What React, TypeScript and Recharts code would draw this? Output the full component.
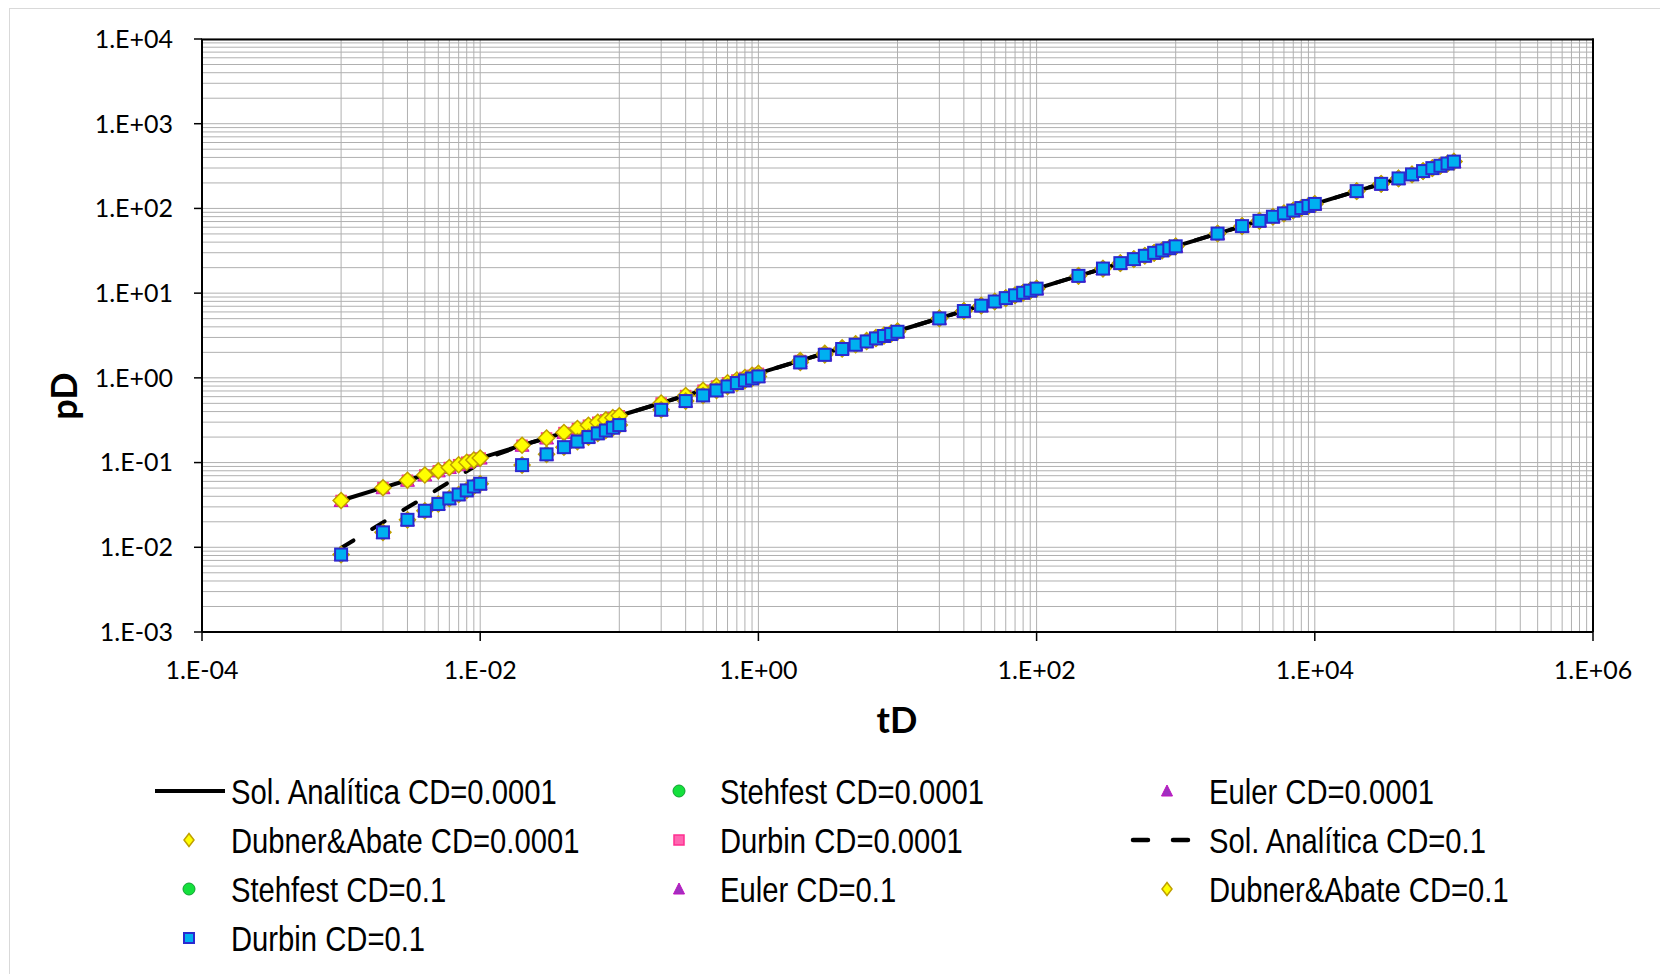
import React from 'react';
import { ComposedChart, Line, Scatter, XAxis, YAxis, CartesianGrid } from 'recharts';

// tD sampling (1..9 x 10^n)
const TD = [
  0.001, 0.002, 0.003, 0.004, 0.005, 0.006, 0.007, 0.008, 0.009,
  0.01, 0.02, 0.03, 0.04, 0.05, 0.06, 0.07, 0.08, 0.09,
  0.1, 0.2, 0.3, 0.4, 0.5, 0.6, 0.7, 0.8, 0.9,
  1, 2, 3, 4, 5, 6, 7, 8, 9,
  10, 20, 30, 40, 50, 60, 70, 80, 90,
  100, 200, 300, 400, 500, 600, 700, 800, 900,
  1000, 2000, 3000, 4000, 5000, 6000, 7000, 8000, 9000,
  10000, 20000, 30000, 40000, 50000, 60000, 70000, 80000, 90000,
  100000,
];

// Sol. Analítica CD=0.0001
const SOL_CD0001 = [
  0.0357, 0.0505, 0.0618, 0.0714, 0.0798, 0.0874, 0.0944, 0.101, 0.107,
  0.113, 0.160, 0.195, 0.226, 0.252, 0.276, 0.299, 0.319, 0.339,
  0.357, 0.505, 0.618, 0.714, 0.798, 0.874, 0.944, 1.01, 1.07,
  1.13, 1.60, 1.95, 2.26, 2.52, 2.76, 2.99, 3.19, 3.39,
  3.57, 5.05, 6.18, 7.14, 7.98, 8.74, 9.44, 10.1, 10.7,
  11.3, 16.0, 19.5, 22.6, 25.2, 27.6, 29.9, 31.9, 33.9,
  35.7, 50.5, 61.8, 71.4, 79.8, 87.4, 94.4, 101, 107,
  113, 160, 195, 226, 252, 276, 299, 319, 339,
  357,
];

// Sol. Analítica CD=0.1 (dashed)
const SOL_CD01 = [
  0.0098, 0.0197, 0.0295, 0.039, 0.049, 0.059, 0.069, 0.079, 0.089,
  0.105, 0.160, 0.195, 0.226, 0.252, 0.276, 0.299, 0.319, 0.339,
  0.357, 0.505, 0.618, 0.714, 0.798, 0.874, 0.944, 1.01, 1.07,
  1.13, 1.60, 1.95, 2.26, 2.52, 2.76, 2.99, 3.19, 3.39,
  3.57, 5.05, 6.18, 7.14, 7.98, 8.74, 9.44, 10.1, 10.7,
  11.3, 16.0, 19.5, 22.6, 25.2, 27.6, 29.9, 31.9, 33.9,
  35.7, 50.5, 61.8, 71.4, 79.8, 87.4, 94.4, 101, 107,
  113, 160, 195, 226, 252, 276, 299, 319, 339,
  357,
];

// numerical inversions, CD=0.1 (Durbin on top, others hidden underneath)
const DURBIN_CD01 = [
  0.0082, 0.0150, 0.0211, 0.0270, 0.0324, 0.0377, 0.0420, 0.0469, 0.0522,
  0.0562, 0.0933, 0.125, 0.152, 0.177, 0.200, 0.221, 0.239, 0.258,
  0.277, 0.420, 0.532, 0.620, 0.710, 0.792, 0.868, 0.931, 0.984,
  1.04, 1.52, 1.87, 2.19, 2.46, 2.69, 2.92, 3.12, 3.29,
  3.50, 5.03, 6.15, 7.12, 7.97, 8.73, 9.43, 10.1, 10.7,
  11.3, 16.0, 19.5, 22.6, 25.2, 27.6, 29.9, 31.9, 33.9,
  35.7, 50.5, 61.8, 71.4, 79.8, 87.4, 94.4, 101, 107,
  113, 160, 195, 226, 252, 276, 299, 319, 339,
  357,
];

// numerical inversions, CD=0.0001 follow the analytical curve
const NUM_CD0001 = SOL_CD0001;

const X_LABELS = [1e-4, 1e-2, 1, 1e2, 1e4, 1e6];
const Y_TICKS = [1e-3, 1e-2, 1e-1, 1, 1e1, 1e2, 1e3, 1e4];

const LEGEND = [
  { label: 'Sol. Analítica CD=0.0001', kind: 'solid' },
  { label: 'Stehfest CD=0.0001', kind: 'circle' },
  { label: 'Euler CD=0.0001', kind: 'triangle' },
  { label: 'Dubner&Abate CD=0.0001', kind: 'diamond' },
  { label: 'Durbin CD=0.0001', kind: 'pink' },
  { label: 'Sol. Analítica CD=0.1', kind: 'dashed' },
  { label: 'Stehfest CD=0.1', kind: 'circle' },
  { label: 'Euler CD=0.1', kind: 'triangle' },
  { label: 'Dubner&Abate CD=0.1', kind: 'diamond' },
  { label: 'Durbin CD=0.1', kind: 'blue' },
];

// gridlines: minor lines only in odd decades on tD, all decades on pD
const GRID_X: number[] = [];
for (let e = -4; e <= 5; e++) {
  if (Math.abs(e) % 2 === 1) for (let k = 1; k <= 9; k++) GRID_X.push(k * Math.pow(10, e));
  else GRID_X.push(Math.pow(10, e));
}
GRID_X.push(1e6);
const GRID_Y: number[] = [];
for (let e = -3; e <= 3; e++) for (let k = 1; k <= 9; k++) GRID_Y.push(k * Math.pow(10, e));
GRID_Y.push(1e4);

const rows = TD.map((t, i) => ({
  t,
  sol1: SOL_CD0001[i],
  sol01: SOL_CD01[i],
  num1: NUM_CD0001[i],
  dur01: DURBIN_CD01[i],
}));

const fmt = (v: number) => {
  const e = Math.round(Math.log10(v));
  return `1.E${e < 0 ? '-' : '+'}${String(Math.abs(e)).padStart(2, '0')}`;
};

const isLabelled = (v: number) => X_LABELS.some((l) => Math.abs(Math.log10(v) - Math.log10(l)) < 1e-6);

const COLORS = {
  green: '#14e03c', greenEdge: '#10a030',
  purple: '#a030c0', purpleEdge: '#c010c0',
  yellow: '#ffff00', yellowEdge: '#c0a000',
  pink: '#ff66b0', pinkEdge: '#ff2f90',
  blue: '#00b0f0', blueEdge: '#2a2ad0',
};

const circleShape = (p: any) => (
  <circle cx={p.cx} cy={p.cy} r={6} fill={COLORS.green} stroke={COLORS.greenEdge} strokeWidth={1} />
);
const triShape = (p: any) => (
  <path d={`M${p.cx},${p.cy - 6.5} L${p.cx + 7},${p.cy + 6} L${p.cx - 7},${p.cy + 6} Z`}
    fill={COLORS.purple} stroke={COLORS.purpleEdge} strokeWidth={1} />
);
const diamondShape = (p: any) => (
  <path d={`M${p.cx},${p.cy - 8} L${p.cx + 8},${p.cy} L${p.cx},${p.cy + 8} L${p.cx - 8},${p.cy} Z`}
    fill={COLORS.yellow} stroke={COLORS.yellowEdge} strokeWidth={1.5} />
);
const pinkShape = (p: any) => (
  <rect x={p.cx - 5} y={p.cy - 5} width={10} height={10} fill={COLORS.pink} stroke={COLORS.pinkEdge} strokeWidth={1.5} />
);
const blueShape = (p: any) => (
  <rect x={p.cx - 6} y={p.cy - 6} width={12} height={12} fill={COLORS.blue} stroke={COLORS.blueEdge} strokeWidth={2} />
);

// x ticks: every gridline is a tick, only even decades get a mark and a label
const XTick = (props: any) => {
  const { x, payload } = props;
  if (!isLabelled(payload.value)) return <g />;
  return (
    <g>
      <line x1={x} x2={x} y1={632} y2={641} stroke="#000" strokeWidth={1.5} />
      <text x={x} y={679} textAnchor="middle" fill="#000" fontSize={25} fontFamily="Lato">{fmt(payload.value)}</text>
    </g>
  );
};

const LegendSymbol = ({ kind, x, y }: { kind: string; x: number; y: number }) => {
  switch (kind) {
    case 'solid':
      return <line x1={155} x2={225} y1={y} y2={y} stroke="#000" strokeWidth={4} />;
    case 'dashed':
      return <line x1={1133} x2={1188} y1={y} y2={y} stroke="#000" strokeWidth={4.5}
        strokeDasharray="15 25" strokeLinecap="round" />;
    case 'circle':
      return <circle cx={x} cy={y} r={6} fill={COLORS.green} stroke={COLORS.greenEdge} strokeWidth={1} />;
    case 'triangle':
      return <path d={`M${x},${y - 6} L${x + 5.5},${y + 5} L${x - 5.5},${y + 5} Z`} fill={COLORS.purple} stroke={COLORS.purpleEdge} strokeWidth={1} />;
    case 'diamond':
      return <path d={`M${x},${y - 6.5} L${x + 5},${y} L${x},${y + 6.5} L${x - 5},${y} Z`} fill={COLORS.yellow} stroke={COLORS.yellowEdge} strokeWidth={1.5} />;
    case 'pink':
      return <rect x={x - 5} y={y - 5} width={10} height={10} fill={COLORS.pink} stroke={COLORS.pinkEdge} strokeWidth={1.5} />;
    default:
      return <rect x={x - 5} y={y - 5} width={10} height={10} fill={COLORS.blue} stroke={COLORS.blueEdge} strokeWidth={2} />;
  }
};

const COL_SYM_X = [189, 679, 1167];
const COL_TEXT_X = [231, 720, 1209];
const ROW_Y = [791, 840, 889, 938];

const tickStyle = { fill: '#000', fontSize: 25, fontFamily: 'Lato' };

export default function App() {
  return (
    <div style={{ position: 'absolute', left: 0, top: 0, width: 1660, height: 974, overflow: 'hidden', background: '#fff' }}>
      <div style={{ position: 'absolute', left: 9, top: 8, width: 1700, height: 1000, border: '1.5px solid #d9d9d9' }} />
      <div style={{ position: 'absolute', left: 0, top: 0 }}>
        <ComposedChart width={1660} height={974} data={rows} margin={{ top: 39, right: 67, left: 0, bottom: 282 }}>
          <YAxis yAxisId="g" type="number" scale="log" domain={[1e-3, 1e4]} ticks={GRID_Y} hide allowDataOverflow interval={0} />
          <CartesianGrid yAxisId="g" stroke="#b0b0b0" strokeWidth={1} />
          <XAxis dataKey="t" type="number" scale="log" domain={[1e-4, 1e6]} ticks={GRID_X} interval={0}
            allowDataOverflow height={60} tickLine={false} tick={<XTick />}
            axisLine={{ stroke: '#000', strokeWidth: 2 }} />
          <YAxis type="number" scale="log" domain={[1e-3, 1e4]} ticks={Y_TICKS} interval={0}
            allowDataOverflow tickFormatter={fmt} width={202} tickSize={8} tickMargin={21}
            axisLine={{ stroke: '#000', strokeWidth: 2 }} tickLine={{ stroke: '#000', strokeWidth: 1.5 }} tick={tickStyle} />
          <Line dataKey="sol1" type="linear" stroke="#000" strokeWidth={4} dot={false} activeDot={false} isAnimationActive={false} />
          <Line dataKey="sol01" type="linear" stroke="#000" strokeWidth={4} strokeDasharray="14.5 22" strokeLinecap="round"
            dot={false} activeDot={false} isAnimationActive={false} />
          <Scatter dataKey="num1" shape={circleShape} isAnimationActive={false} />
          <Scatter dataKey="num1" shape={triShape} isAnimationActive={false} />
          <Scatter dataKey="num1" shape={pinkShape} isAnimationActive={false} />
          <Scatter dataKey="num1" shape={diamondShape} isAnimationActive={false} />
          <Scatter dataKey="dur01" shape={circleShape} isAnimationActive={false} />
          <Scatter dataKey="dur01" shape={triShape} isAnimationActive={false} />
          <Scatter dataKey="dur01" shape={diamondShape} isAnimationActive={false} />
          <Scatter dataKey="dur01" shape={blueShape} isAnimationActive={false} />
        </ComposedChart>
      </div>
      <svg width={1660} height={974} style={{ position: 'absolute', left: 0, top: 0, pointerEvents: 'none' }}>
        <line x1={201} x2={1594} y1={39.5} y2={39.5} stroke="#000" strokeWidth={2} />
        <line x1={1593} x2={1593} y1={38.5} y2={632} stroke="#000" strokeWidth={2} />
        <text x={897} y={733} textAnchor="middle" fontFamily="Lato" fontWeight="bold" fontSize={36}>tD</text>
        <text transform="translate(77,396) rotate(-90)" textAnchor="middle" fontFamily="Lato" fontWeight="bold" fontSize={36}>pD</text>
        {LEGEND.map((item, i) => {
          const col = i % 3;
          const y = ROW_Y[Math.floor(i / 3)];
          return (
            <g key={item.label}>
              <LegendSymbol kind={item.kind} x={COL_SYM_X[col]} y={y} />
              <text transform={`translate(${COL_TEXT_X[col]},${y + 12.5}) scale(0.835,1)`}
                fontFamily="'Liberation Sans', Arial, sans-serif" fontSize={35} fill="#000">
                {item.label}
              </text>
            </g>
          );
        })}
      </svg>
    </div>
  );
}
